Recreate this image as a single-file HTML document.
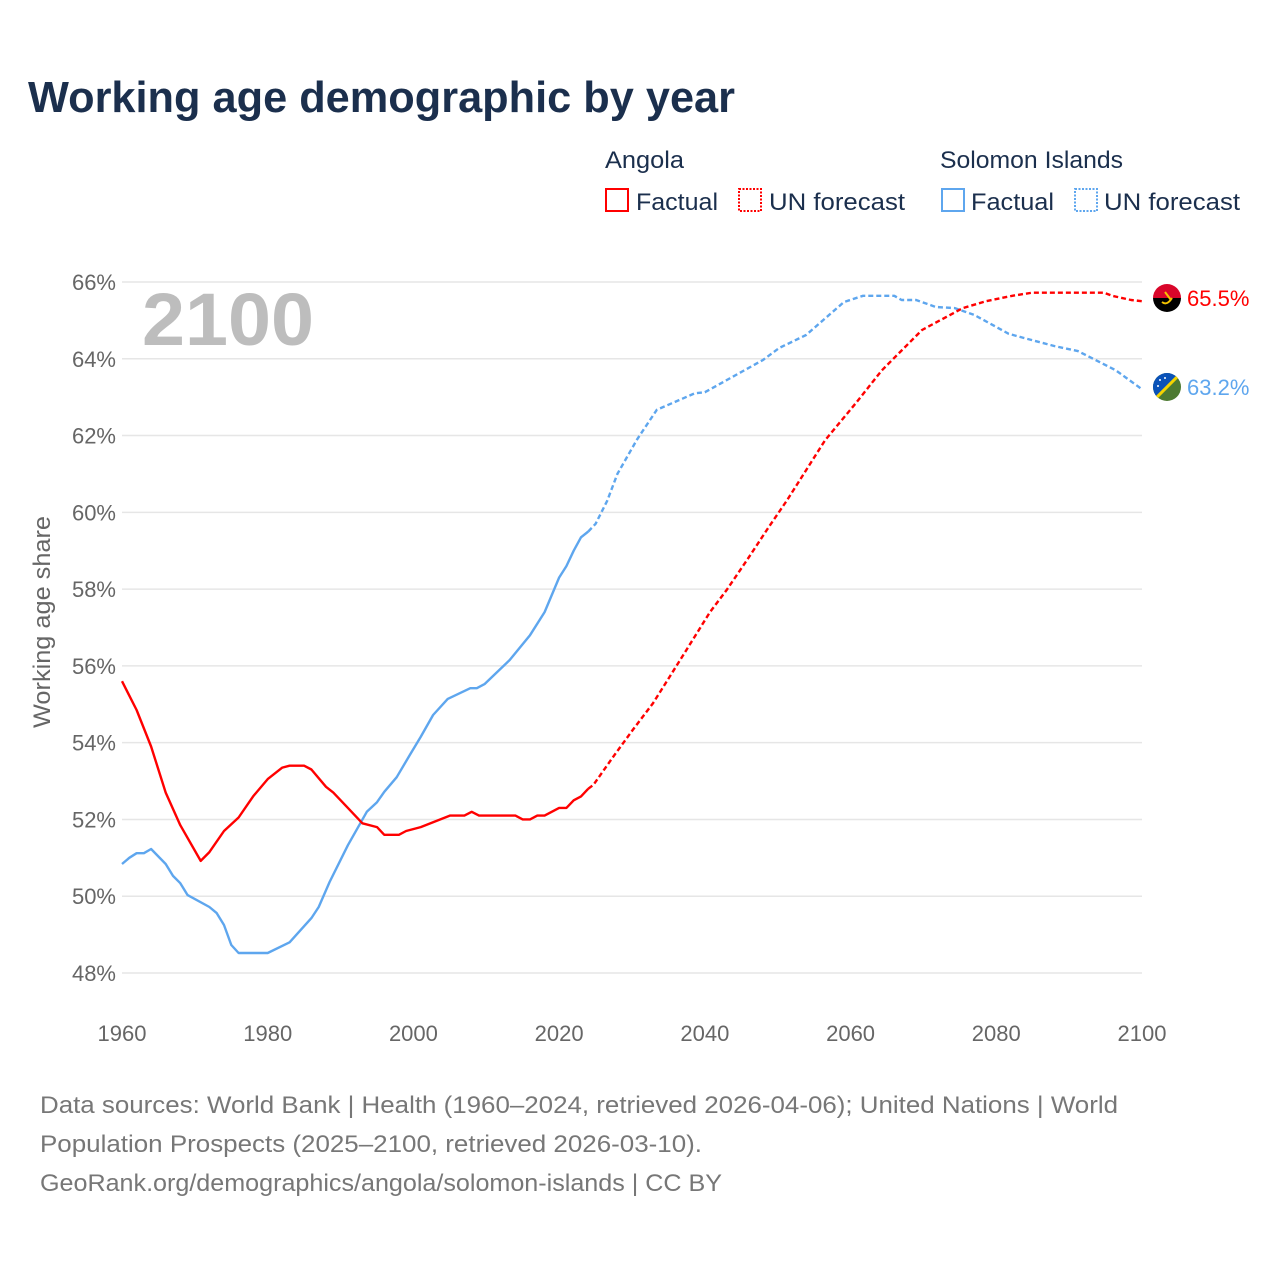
<!DOCTYPE html>
<html><head><meta charset="utf-8"><style>
html,body{margin:0;padding:0;background:#fff;}
svg{display:block;font-family:"Liberation Sans",sans-serif;}
</style></head><body>
<svg id="chart" width="1280" height="1280" viewBox="0 0 1280 1280">
<text x="28" y="112" font-size="44" font-weight="bold" fill="#1b2f4d" textLength="707" lengthAdjust="spacingAndGlyphs">Working age demographic by year</text>
<g>
<text x="605" y="168" font-size="24" fill="#1b2f4d" textLength="79" lengthAdjust="spacingAndGlyphs">Angola</text>
<text x="940" y="168" font-size="24" fill="#1b2f4d" textLength="183" lengthAdjust="spacingAndGlyphs">Solomon Islands</text>
<rect x="606" y="189" width="22" height="22" fill="none" stroke="#f00" stroke-width="2"/>
<text x="636" y="210" font-size="24" fill="#1b2f4d" textLength="82" lengthAdjust="spacingAndGlyphs">Factual</text>
<rect x="739" y="189" width="22" height="22" fill="none" stroke="#f00" stroke-width="2" stroke-dasharray="2,1.5"/>
<text x="769" y="210" font-size="24" fill="#1b2f4d" textLength="136" lengthAdjust="spacingAndGlyphs">UN forecast</text>
<rect x="942" y="189" width="22" height="22" fill="none" stroke="#5ea6ee" stroke-width="2"/>
<text x="971" y="210" font-size="24" fill="#1b2f4d" textLength="83" lengthAdjust="spacingAndGlyphs">Factual</text>
<rect x="1075" y="189" width="22" height="22" fill="none" stroke="#5ea6ee" stroke-width="2" stroke-dasharray="2,1.5"/>
<text x="1104" y="210" font-size="24" fill="#1b2f4d" textLength="136" lengthAdjust="spacingAndGlyphs">UN forecast</text>
</g>
<g id="grid"></g>
<g id="yticks"></g>
<g id="xticks"></g>
<text x="142" y="345" font-size="74" font-weight="bold" fill="#bdbdbd" textLength="172" lengthAdjust="spacingAndGlyphs">2100</text>
<text transform="translate(50,622) rotate(-90)" text-anchor="middle" font-size="24" fill="#666" textLength="212" lengthAdjust="spacingAndGlyphs">Working age share</text>
<g id="series"></g>
<g>
<clipPath id="ca"><circle cx="1167" cy="298" r="14"/></clipPath>
<g clip-path="url(#ca)"><rect x="1150" y="282" width="34" height="16" fill="#d9062a"/><rect x="1150" y="298" width="34" height="16" fill="#000"/>
<path d="M1162 302 q5 4 10 -4" stroke="#f5c400" stroke-width="2" fill="none"/><path d="M1165 292 l6 8" stroke="#f5c400" stroke-width="2"/></g>
</g>
<g>
<clipPath id="cs"><circle cx="1167" cy="387" r="14"/></clipPath>
<g clip-path="url(#cs)"><rect x="1150" y="370" width="34" height="34" fill="#4d7a32"/><path d="M1150 370 L1184 370 L1150 404 Z" fill="#0a52b8"/><path d="M1184 370 L1150 404" stroke="#f5d400" stroke-width="3"/>
<circle cx="1160" cy="380" r="1" fill="#fff"/><circle cx="1165" cy="378" r="1" fill="#fff"/><circle cx="1158" cy="386" r="1" fill="#fff"/></g>
</g>
<text x="1187" y="306" font-size="22" fill="#f00">65.5%</text>
<text x="1187" y="395" font-size="22" fill="#5ea6ee">63.2%</text>
<g font-size="24" fill="#777">
<text x="40" y="1113" textLength="1078" lengthAdjust="spacingAndGlyphs">Data sources: World Bank | Health (1960–2024, retrieved 2026-04-06); United Nations | World</text>
<text x="40" y="1152" textLength="662" lengthAdjust="spacingAndGlyphs">Population Prospects (2025–2100, retrieved 2026-03-10).</text>
<text x="40" y="1191" textLength="682" lengthAdjust="spacingAndGlyphs">GeoRank.org/demographics/angola/solomon-islands | CC BY</text>
</g>
</svg>
<script>
const yTicks = [48,50,52,54,56,58,60,62,64,66];
const xTicks = [1960,1980,2000,2020,2040,2060,2080,2100];
const angolaFactYears = [1960,1962,1964,1966,1968,1970.8,1972,1974,1976,1978,1980,1982,1983,1985,1986,1988,1989,1991,1993,1995,1996,1998,1999,2001,2003,2005,2007,2008,2009,2014,2015,2016,2017,2018,2020,2021,2022,2023,2024];
const angolaFactVals = [55.6,54.85,53.9,52.7,51.85,50.92,51.15,51.7,52.05,52.6,53.05,53.35,53.4,53.4,53.3,52.85,52.7,52.3,51.9,51.8,51.6,51.6,51.7,51.8,51.95,52.1,52.1,52.2,52.1,52.1,52.0,52.0,52.1,52.1,52.3,52.3,52.5,52.6,52.8];
const angolaFcYears = [2024,2024.7,2027.4,2030.1,2032.9,2036.6,2040.7,2043,2045.8,2048.5,2051.3,2056.5,2060.7,2064.3,2069.8,2075.4,2078.6,2082.2,2084.9,2094.8,2095.9,2098.5,2100];
const angolaFcVals = [52.8,52.9,53.63,54.33,55.03,56.15,57.4,57.98,58.76,59.54,60.32,61.88,62.84,63.7,64.75,65.32,65.5,65.64,65.72,65.72,65.64,65.53,65.5];
const solFactYears = [1960,1961,1962,1963,1964,1966,1967,1968,1969,1972,1973,1974,1975,1976,1980,1983,1986,1987,1988.5,1991,1993.6,1995,1996,1997.7,1999.5,2001,2002.7,2004.7,2007.8,2008.7,2009.8,2013.2,2016,2018,2020,2021,2022,2023,2024];
const solFactVals = [50.84,51.0,51.12,51.12,51.23,50.84,50.53,50.34,50.03,49.72,49.56,49.25,48.73,48.52,48.52,48.8,49.43,49.72,50.37,51.33,52.2,52.45,52.72,53.1,53.68,54.15,54.72,55.14,55.42,55.42,55.53,56.15,56.8,57.4,58.3,58.6,59.0,59.35,59.5];
const solFcYears = [2024,2025,2026.6,2028,2030.7,2033.4,2038.6,2040,2048,2050.2,2053.9,2059.1,2061.7,2066,2067,2069,2071.7,2074.3,2077,2081.7,2083.8,2088,2091.2,2096.4,2099.6,2100];
const solFcVals = [59.5,59.7,60.3,61.0,61.9,62.67,63.1,63.13,63.97,64.28,64.62,65.48,65.64,65.64,65.53,65.53,65.35,65.32,65.14,64.65,64.54,64.33,64.2,63.7,63.26,63.2];

const NS = 'http://www.w3.org/2000/svg';
function xs(y){ return 122 + (y-1960)*(1020/140); }
function ys(v){ return 282 + (66-v)*(691/18); }
function mk(tag, attrs, parent){ const e=document.createElementNS(NS,tag); for(const k in attrs) e.setAttribute(k,attrs[k]); parent.appendChild(e); return e; }
const grid=document.getElementById('grid'), yt=document.getElementById('yticks'), xt=document.getElementById('xticks'), ser=document.getElementById('series');
yTicks.forEach(t=>{
  const l=mk('line',{x1:122,x2:1142,y1:ys(t),y2:ys(t),stroke:'#e6e6e6','stroke-width':1.5},grid);
  
  
  const tx=mk('text',{x:116,y:ys(t)+8,'text-anchor':'end','font-size':22,fill:'#666'},yt);
  tx.textContent=t+'%';
  
  
});
xTicks.forEach(t=>{
  const tx=mk('text',{x:xs(t),y:1041,'text-anchor':'middle','font-size':22,fill:'#666'},xt);
  tx.textContent=t;
  
  
});
function line(years, vals, color, dash, name){
  const pts=years.map((y,i)=>xs(y).toFixed(1)+','+ys(vals[i]).toFixed(1)).join(' ');
  const a={points:pts,fill:'none',stroke:color,'stroke-width':2.4,'stroke-linejoin':'round'};
  if(dash) a['stroke-dasharray']='5,3';
  const p=mk('polyline',a,ser);
  
  
}
line(solFactYears,solFactVals,'#5ea6ee',false,'solomon-factual-line');
line(solFcYears,solFcVals,'#5ea6ee',true,'solomon-forecast-line');
line(angolaFactYears,angolaFactVals,'#f00',false,'angola-factual-line');
line(angolaFcYears,angolaFcVals,'#f00',true,'angola-forecast-line');
</script>
</body></html>
